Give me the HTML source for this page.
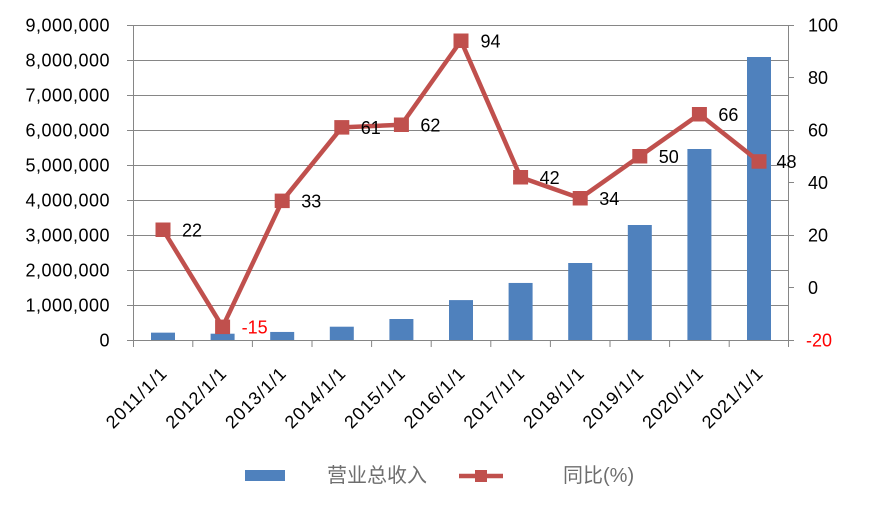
<!DOCTYPE html>
<html>
<head>
<meta charset="utf-8">
<style>
html,body{margin:0;padding:0;background:#fff;}
svg{display:block;}
text{font-family:"Liberation Sans","Noto Sans CJK SC",sans-serif;}
</style>
</head>
<body>
<svg width="869" height="509" viewBox="0 0 869 509" xmlns="http://www.w3.org/2000/svg">
<rect width="869" height="509" fill="#fff"/>
<!-- gridlines -->
<g stroke="#868686" stroke-width="1">
<line x1="127" y1="25.5" x2="788" y2="25.5"/>
<line x1="127" y1="60.5" x2="788" y2="60.5"/>
<line x1="127" y1="95.5" x2="788" y2="95.5"/>
<line x1="127" y1="130.5" x2="788" y2="130.5"/>
<line x1="127" y1="165.5" x2="788" y2="165.5"/>
<line x1="127" y1="200.5" x2="788" y2="200.5"/>
<line x1="127" y1="235.5" x2="788" y2="235.5"/>
<line x1="127" y1="270.5" x2="788" y2="270.5"/>
<line x1="127" y1="305.5" x2="788" y2="305.5"/>
<line x1="127" y1="340.5" x2="794" y2="340.5"/>
<!-- left axis -->
<line x1="133.5" y1="25" x2="133.5" y2="347"/>
<!-- right axis -->
<line x1="788.5" y1="25" x2="788.5" y2="341"/>
<line x1="788" y1="25.5" x2="794" y2="25.5"/>
<line x1="788" y1="77.5" x2="794" y2="77.5"/>
<line x1="788" y1="130.5" x2="794" y2="130.5"/>
<line x1="788" y1="182.5" x2="794" y2="182.5"/>
<line x1="788" y1="235.5" x2="794" y2="235.5"/>
<line x1="788" y1="287.5" x2="794" y2="287.5"/>
<!-- bottom ticks -->
<line x1="192.8" y1="340" x2="192.8" y2="347"/>
<line x1="252.4" y1="340" x2="252.4" y2="347"/>
<line x1="312" y1="340" x2="312" y2="347"/>
<line x1="371.6" y1="340" x2="371.6" y2="347"/>
<line x1="431.2" y1="340" x2="431.2" y2="347"/>
<line x1="490.8" y1="340" x2="490.8" y2="347"/>
<line x1="550.4" y1="340" x2="550.4" y2="347"/>
<line x1="610" y1="340" x2="610" y2="347"/>
<line x1="669.6" y1="340" x2="669.6" y2="347"/>
<line x1="729.2" y1="340" x2="729.2" y2="347"/>
<line x1="788.5" y1="340" x2="788.5" y2="347"/>
</g>
<!-- bars -->
<g fill="#4F81BD">
<rect x="151" y="332.65" width="24" height="7.35"/>
<rect x="210.6" y="333.7" width="24" height="6.3"/>
<rect x="270.2" y="331.95" width="24" height="8.05"/>
<rect x="329.8" y="326.7" width="24" height="13.3"/>
<rect x="389.4" y="319" width="24" height="21"/>
<rect x="449" y="300.1" width="24" height="39.9"/>
<rect x="508.6" y="282.95" width="24" height="57.05"/>
<rect x="568.2" y="263" width="24" height="77"/>
<rect x="627.8" y="225" width="24" height="115"/>
<rect x="687.4" y="149" width="24" height="191"/>
<rect x="747" y="57" width="24" height="283"/>
</g>
<!-- line -->
<polyline fill="none" stroke="#C0504D" stroke-width="4.5" stroke-linejoin="round"
 points="163,229.75 222.6,326.9 282.2,200.9 341.8,127.4 401.4,124.75 461,40.75 520.6,177.25 580.2,198.25 639.8,156.25 699.4,114.25 759,161.5"/>
<g fill="#C0504D">
<rect x="155.5" y="222.5" width="15" height="14.5"/>
<rect x="215.1" y="319.6" width="15" height="14.5"/>
<rect x="274.7" y="193.6" width="15" height="14.5"/>
<rect x="334.3" y="120.1" width="15" height="14.5"/>
<rect x="393.9" y="117.5" width="15" height="14.5"/>
<rect x="453.5" y="33.5" width="15" height="14.5"/>
<rect x="513.1" y="170" width="15" height="14.5"/>
<rect x="572.7" y="191" width="15" height="14.5"/>
<rect x="632.3" y="149" width="15" height="14.5"/>
<rect x="691.9" y="107" width="15" height="14.5"/>
<rect x="751.5" y="154.2" width="15" height="14.5"/>
</g>
<!-- data labels -->
<g font-size="18" fill="#000">
<text x="182" y="236.3">22</text>
<text x="241.6" y="333.4" fill="#FF0000">-15</text>
<text x="301.2" y="207.4">33</text>
<text x="360.8" y="133.9">61</text>
<text x="420.4" y="131.3">62</text>
<text x="480.5" y="47.3">94</text>
<text x="539.6" y="183.8">42</text>
<text x="599.2" y="204.8">34</text>
<text x="658.8" y="162.8">50</text>
<text x="718.4" y="120.8">66</text>
<text x="776.5" y="168">48</text>
</g>
<!-- left axis labels -->
<g font-size="18" fill="#000" text-anchor="end">
<text x="109.5" y="31.5" textLength="84" lengthAdjust="spacing">9,000,000</text>
<text x="109.5" y="66.5" textLength="84" lengthAdjust="spacing">8,000,000</text>
<text x="109.5" y="101.5" textLength="84" lengthAdjust="spacing">7,000,000</text>
<text x="109.5" y="136.5" textLength="84" lengthAdjust="spacing">6,000,000</text>
<text x="109.5" y="171.5" textLength="84" lengthAdjust="spacing">5,000,000</text>
<text x="109.5" y="206.5" textLength="84" lengthAdjust="spacing">4,000,000</text>
<text x="109.5" y="241.5" textLength="84" lengthAdjust="spacing">3,000,000</text>
<text x="109.5" y="276.5" textLength="84" lengthAdjust="spacing">2,000,000</text>
<text x="109.5" y="311.5" textLength="84" lengthAdjust="spacing">1,000,000</text>
<text x="109.5" y="346.5">0</text>
</g>
<!-- right axis labels -->
<g font-size="18" fill="#000">
<text x="808" y="31.5">100</text>
<text x="808" y="84">80</text>
<text x="808" y="136.5">60</text>
<text x="808" y="189">40</text>
<text x="808" y="241.5">20</text>
<text x="808" y="294">0</text>
<text x="806" y="346.5" fill="#FF0000">-20</text>
</g>
<!-- x labels -->
<g font-size="18" fill="#000" text-anchor="end">
<text transform="translate(167.7,375) rotate(-45)" textLength="77" lengthAdjust="spacing">2011/1/1</text>
<text transform="translate(227.3,375) rotate(-45)" textLength="77" lengthAdjust="spacing">2012/1/1</text>
<text transform="translate(286.9,375) rotate(-45)" textLength="77" lengthAdjust="spacing">2013/1/1</text>
<text transform="translate(346.5,375) rotate(-45)" textLength="77" lengthAdjust="spacing">2014/1/1</text>
<text transform="translate(406.1,375) rotate(-45)" textLength="77" lengthAdjust="spacing">2015/1/1</text>
<text transform="translate(465.7,375) rotate(-45)" textLength="77" lengthAdjust="spacing">2016/1/1</text>
<text transform="translate(525.3,375) rotate(-45)" textLength="77" lengthAdjust="spacing">2017/1/1</text>
<text transform="translate(584.9,375) rotate(-45)" textLength="77" lengthAdjust="spacing">2018/1/1</text>
<text transform="translate(644.5,375) rotate(-45)" textLength="77" lengthAdjust="spacing">2019/1/1</text>
<text transform="translate(704.1,375) rotate(-45)" textLength="77" lengthAdjust="spacing">2020/1/1</text>
<text transform="translate(763.7,375) rotate(-45)" textLength="77" lengthAdjust="spacing">2021/1/1</text>
</g>
<!-- legend -->
<rect x="245" y="470" width="40" height="11" fill="#4F81BD"/>
<text x="327" y="482" font-size="20" fill="#6e6e6e" font-family="'Noto Sans CJK SC',sans-serif">营业总收入</text>
<line x1="459" y1="476" x2="503" y2="476" stroke="#C0504D" stroke-width="4.5"/>
<rect x="475" y="470" width="12" height="12" fill="#C0504D"/>
<text x="563" y="482" font-size="20" fill="#6e6e6e" font-family="'Liberation Sans','Noto Sans CJK SC',sans-serif">同比(%)</text>
</svg>
</body>
</html>
